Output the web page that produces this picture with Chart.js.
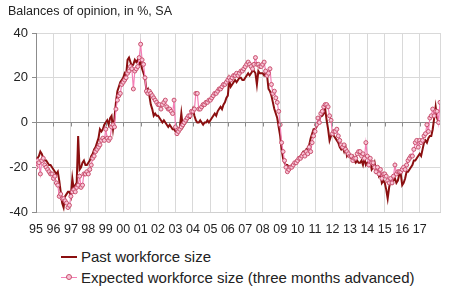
<!DOCTYPE html>
<html>
<head>
<meta charset="utf-8">
<script src="https://cdn.jsdelivr.net/npm/chart.js@4.4.1/dist/chart.umd.min.js"></script>
<style>
  body { margin: 0; background: #fff; font-family: "Liberation Sans", Arial, sans-serif; color: #222; }
  #wrap { position: relative; width: 450px; height: 291px; overflow: hidden; }
  #box { position: absolute; left: 0; top: 0; width: 450px; height: 240px; }
  .title { position: absolute; left: 8px; top: 4px; font-size: 12.5px; line-height: 15px; white-space: nowrap; }
  .leg { position: absolute; left: 61px; font-size: 15px; line-height: 17px; white-space: nowrap; }
  .leg .txt { position: absolute; left: 20px; top: 0; }
  .leg .swatch { position: absolute; left: 0; width: 16px; top: 8px; }
  .leg .dot { position: absolute; left: 5px; top: 5px; width: 4px; height: 4px; border-radius: 50%; border: 1px solid #c8506e; background: #f9c6d8; }
</style>
</head>
<body>
<div id="wrap">
  <div id="box"><canvas id="chart"></canvas></div>
  <div class="title">Balances of opinion, in %, SA</div>
  <div class="leg" style="top:248px">
    <div class="swatch" style="height:2px;background:#8b0f10"></div>
    <div class="txt">Past workforce size</div>
  </div>
  <div class="leg" style="top:269px">
    <div class="swatch" style="height:1px;background:#f47fb6;top:8px"></div>
    <div class="dot"></div>
    <div class="txt">Expected workforce size (three months advanced)</div>
  </div>
</div>
<script>
  // months counted from January 1995
  const yearLabels = ['95', '96', '97', '98', '99', '00', '01', '02', '03', '04', '05', '06',
    '07', '08', '09', '10', '11', '12', '13', '14', '15', '16', '17'];
  const yTicks = [40, 20, 0, -20, -40];

  const pastWorkforce = [
    -17, -16, -15, -13, -14, -16, -17, -17, -18, -19, -19, -20,   // 1995
    -21, -22, -23, -22, -26, -31, -36, -38, -33, -32, -31, -31,   // 1996
    -33, -25, -30, -28, -27, -6, -21, -20, -18, -17, -19, -19,    // 1997
    -18, -17, -15, -14, -12, -11, -9, -7, -3, -4, -3, -1,         // 1998
    0, 1, -1, 2, 3, -3, 2, 9, 14, 16, 18, 19,                     // 1999
    20, 22, 21, 28, 29, 27, 25, 26, 28, 27, 28, 26,               // 2000
    27, 24, 22, 20, 14, 15, 12, 8, 6, 3, 4, 3,                    // 2001
    3, 2, 1, 0, 1, 0, -1, -2, -1, -2, -3, -3,                     // 2002
    -4, -4, -3, -2, 4, -2, -1, 0, 1, 2, 2, 4,                     // 2003
    6, 3, 1, 0, 0, 1, 0, -1, 0, 0, 1, 0,                          // 2004
    1, 2, 3, 4, 3, 5, 6, 7, 6, 8, 9, 11,                          // 2005
    12, 19, 16, 17, 18, 19, 18, 19, 20, 20, 19, 19,               // 2006
    20, 21, 22, 21, 22, 23, 23, 22, 17, 23, 22, 22,               // 2007
    22, 21, 22, 21, 15, 14, 12, 9, 6, 4, 2, -2,                   // 2008
    -6, -12, -16, -18, -19, -19, -20, -20, -19, -19, -18, -17,    // 2009
    -17, -16, -15, -14, -13, -13, -12, -13, -10, -7, -5, -3,      // 2010
    -3, -2, 0, 1, 3, 3, 4, 6, 1, -3, -8, -6,                      // 2011
    -5, -6, -7, -8, -9, -11, -12, -11, -13, -11, -15, -14,        // 2012
    -15, -16, -15, -17, -18, -17, -18, -18, -17, -19, -16, -19,   // 2013
    -18, -19, -17, -21, -20, -18, -22, -21, -24, -23, -27, -26,   // 2014
    -27, -30, -34, -29, -26, -25, -26, -25, -27, -26, -23, -23,   // 2015
    -28, -27, -25, -22, -22, -21, -20, -19, -17, -17, -16, -15,   // 2016
    -14, -15, -12, -9, -8, -9, -7, -6, -6, -3, 2, 7,              // 2017
    2, 0                                                          // 2018
  ];

  const expectedWorkforce = [
    -20, -17, -18, -23, -17, -16, -19, -20, -21, -22, -23, -23,   // 1995
    -25, -24, -27, -28, -33, -32, -34, -34, -35, -36, -38, -37,   // 1996
    -33, -31, -30, -31, -29, -28, -24, -29, -28, -23, -23, -22,   // 1997
    -23, -21, -19, -16, -15, -13, -12, -11, -10, -8, -7, -8,      // 1998
    -3, -7, -8, -7, -2, -1, -2, 6, 10, 12, 13, 17,                // 1999
    18, 19, 20, 22, 23, 25, 24, 15, 23, 24, 25, 29,               // 2000
    35, 28, 26, 20, 14, 13, 14, 13, 12, 11, 10, 9,                // 2001
    8, 8, 6, 8, 9, 10, 7, 6, 6, 5, 4, 10,                         // 2002
    -2, -5, -4, -3, -2, -1, 0, 1, 2, 3, 3, 5,                     // 2003
    5, 6, 13, 13, 6, 6, 7, 8, 8, 9, 9, 10,                        // 2004
    10, 11, 12, 13, 13, 14, 15, 15, 16, 17, 17, 18,               // 2005
    19, 20, 19, 20, 21, 21, 22, 21, 22, 23, 23, 24,               // 2006
    25, 26, 27, 26, 25, 24, 26, 29, 26, 26, 25, 25,               // 2007
    26, 27, 23, 21, 22, 24, 17, 13, 14, 11, 9, 5,                 // 2008
    -1, -9, -13, -17, -20, -22, -21, -20, -20, -19, -18, -18,     // 2009
    -17, -16, -16, -15, -14, -15, -13, -14, -11, -13, -9, -6,     // 2010
    -4, -1, 2, 0, 4, 5, 7, 8, 8, 7, 3, 1,                         // 2011
    -5, -4, -4, -3, -6, -8, -10, -11, -10, -12, -13, -14,         // 2012
    -15, -15, -17, -16, -16, -14, -13, -13, -15, -14, -16, -9,    // 2013
    -15, -19, -16, -18, -18, -20, -22, -20, -23, -21, -25, -23,   // 2014
    -23, -24, -26, -27, -25, -27, -24, -19, -23, -22, -22, -22,   // 2015
    -21, -20, -21, -19, -17, -16, -15, -15, -12, -9, -8, -11,     // 2016
    -8, -9, -8, -6, -5, -1, -4, 2, 3, 6, 3, 5,                    // 2017
    5, 0, 9                                                       // 2018
  ];

  const lastMonth = 278;

  function toPoints(values) {
    return values.map((v, i) => ({ x: i, y: v }));
  }

  // small tick marks hanging under the zero line, as in the original
  const zeroTicks = {
    id: 'zeroTicks',
    afterDraw(chart) {
      const x = chart.scales.x, y = chart.scales.y;
      const y0 = y.getPixelForValue(0);
      const ctx = chart.ctx;
      ctx.save();
      ctx.strokeStyle = '#8c8c8c';
      ctx.lineWidth = 1;
      ctx.beginPath();
      yearLabels.forEach((_, i) => {
        const px = Math.round(x.getPixelForValue(i * 12)) + 0.5;
        ctx.moveTo(px, y0);
        ctx.lineTo(px, y0 + 4);
      });
      ctx.stroke();
      ctx.restore();
    }
  };

  new Chart(document.getElementById('chart'), {
    type: 'line',
    data: {
      datasets: [
        {
          label: 'Past workforce size',
          data: toPoints(pastWorkforce),
          borderColor: '#8b0f10',
          borderWidth: 2,
          pointRadius: 0,
          tension: 0,
          order: 1
        },
        {
          label: 'Expected workforce size (three months advanced)',
          data: toPoints(expectedWorkforce),
          borderColor: '#f47fb6',
          borderWidth: 1.2,
          pointRadius: 2,
          pointBorderWidth: 1,
          pointBorderColor: '#c8506e',
          pointBackgroundColor: '#f9c6d8',
          tension: 0,
          order: 0
        }
      ]
    },
    options: {
      responsive: true,
      maintainAspectRatio: false,
      animation: false,
      layout: { padding: { left: 6, right: 8, top: 33, bottom: 0 } },
      plugins: { legend: { display: false }, tooltip: { enabled: false } },
      scales: {
        x: {
          type: 'linear',
          min: 0,
          max: lastMonth,
          afterBuildTicks(scale) {
            const ticks = yearLabels.map((_, i) => ({ value: i * 12 }));
            ticks.push({ value: lastMonth });
            scale.ticks = ticks;
          },
          afterFit(scale) { scale.height = 28; },
          grid: { color: '#d9d9d9', drawTicks: false },
          border: { color: '#d0d0d0' },
          ticks: {
            padding: 10,
            maxRotation: 0,
            autoSkip: false,
            color: '#222',
            font: { family: 'Liberation Sans', size: 12.5 },
            callback: (v) => yearLabels[v / 12] || ''
          }
        },
        y: {
          min: -40,
          max: 40,
          afterBuildTicks(scale) {
            scale.ticks = yTicks.map(v => ({ value: v }));
          },
          afterFit(scale) { scale.width = 30; },
          grid: {
            color: (c) => c.tick && c.tick.value === 0 ? '#8c8c8c' : '#d9d9d9',
            tickColor: '#8c8c8c',
            tickLength: 4
          },
          border: { color: '#8c8c8c' },
          ticks: {
            padding: 4,
            color: '#222',
            font: { family: 'Liberation Sans', size: 13 }
          }
        }
      }
    },
    plugins: [zeroTicks]
  });
</script>
</body>
</html>
